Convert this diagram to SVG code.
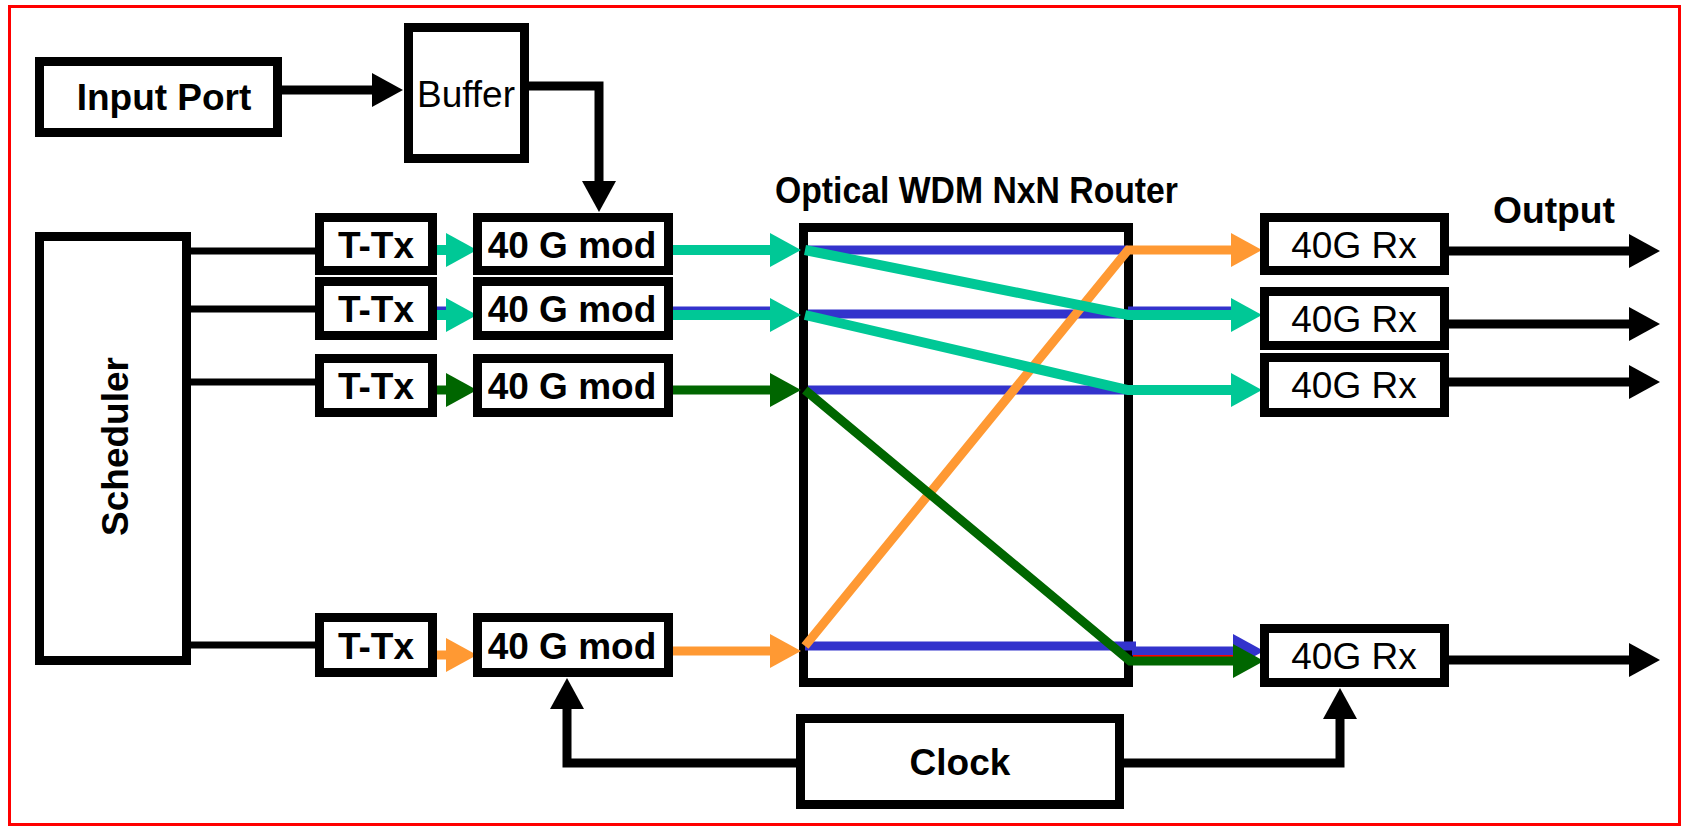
<svg xmlns="http://www.w3.org/2000/svg" width="1683" height="826" viewBox="0 0 1683 826">
  <style>
    .box { fill: #ffffff; stroke: #000000; stroke-width: 9; }
    .lbl { font-family: "Liberation Sans", Arial, sans-serif; font-weight: bold; font-size: 37px; fill: #000000; text-anchor: middle; }
    .reg { font-weight: normal; }
    .blk { fill: none; stroke: #000000; stroke-width: 9; }
    .ctl { fill: none; stroke: #000000; stroke-width: 7; }
    .teal { fill: none; stroke: #00C896; stroke-width: 10; }
    .grn { fill: none; stroke: #006600; stroke-width: 9; }
    .org { fill: none; stroke: #FF9933; stroke-width: 9; }
    .blu { fill: none; stroke: #3333CC; stroke-width: 9; }
  </style>
  <defs>
    <marker id="ah-black" markerUnits="userSpaceOnUse" markerWidth="32" markerHeight="34" refX="1" refY="17" orient="auto">
      <path d="M0,0 L31,17 L0,34 z" fill="#000000"/>
    </marker>
    <marker id="ah-teal" markerUnits="userSpaceOnUse" markerWidth="32" markerHeight="34" refX="1" refY="17" orient="auto">
      <path d="M0,0 L31,17 L0,34 z" fill="#00C896"/>
    </marker>
    <marker id="ah-green" markerUnits="userSpaceOnUse" markerWidth="32" markerHeight="34" refX="1" refY="17" orient="auto">
      <path d="M0,0 L31,17 L0,34 z" fill="#006600"/>
    </marker>
    <marker id="ah-orange" markerUnits="userSpaceOnUse" markerWidth="32" markerHeight="34" refX="1" refY="17" orient="auto">
      <path d="M0,0 L31,17 L0,34 z" fill="#FF9933"/>
    </marker>
    <marker id="ah-blue" markerUnits="userSpaceOnUse" markerWidth="32" markerHeight="34" refX="1" refY="17" orient="auto">
      <path d="M0,0 L31,17 L0,34 z" fill="#3333CC"/>
    </marker>
  </defs>

  <rect x="0" y="0" width="1683" height="826" fill="#ffffff"/>
  <!-- outer frame -->
  <rect x="9.5" y="6.5" width="1670" height="818" fill="none" stroke="#FF0000" stroke-width="3"/>

  <!-- router body drawn first so the wavelength paths sit on top of it -->
  <g id="router">
    <rect class="box" x="803.5" y="227.5" width="325" height="455"/>
    <text class="lbl" x="976.5" y="203" font-size="29" textLength="403" lengthAdjust="spacingAndGlyphs">Optical WDM NxN Router</text>
  </g>

  <g id="connectors">
    <!-- control lines -->
    <line class="blk" x1="282" y1="90" x2="373" y2="90" marker-end="url(#ah-black)"/>
    <path class="blk" d="M529,86 H599 V182" marker-end="url(#ah-black)"/>
    <line class="ctl" x1="191" y1="251" x2="315" y2="251"/>
    <line class="ctl" x1="191" y1="309" x2="315" y2="309"/>
    <line class="ctl" x1="191" y1="382" x2="315" y2="382"/>
    <line class="ctl" x1="191" y1="645" x2="315" y2="645"/>
    <path class="blk" d="M796,763 H567 V708" stroke-width="10" marker-end="url(#ah-black)"/>
    <path class="blk" d="M1124,763 H1340 V718" stroke-width="10" marker-end="url(#ah-black)"/>

    <!-- outputs -->
    <line class="blk" x1="1449" y1="251" x2="1630" y2="251" stroke-width="8" marker-end="url(#ah-black)"/>
    <line class="blk" x1="1449" y1="324" x2="1630" y2="324" stroke-width="8" marker-end="url(#ah-black)"/>
    <line class="blk" x1="1449" y1="382" x2="1630" y2="382" stroke-width="8" marker-end="url(#ah-black)"/>
    <line class="blk" x1="1449" y1="660" x2="1630" y2="660" stroke-width="8" marker-end="url(#ah-black)"/>

    <!-- second channel also carries a thin blue trace -->
    <line class="blu" stroke-width="3" x1="437" y1="311" x2="448" y2="311"/>
    <line class="blu" stroke-width="3" x1="673" y1="311" x2="772" y2="311"/>
    <line class="blu" stroke-width="3" x1="1128" y1="311" x2="1234" y2="311"/>

    <!-- transmitter to modulator -->
    <line class="teal" x1="437" y1="250" x2="447" y2="250" marker-end="url(#ah-teal)"/>
    <line class="teal" x1="437" y1="315" x2="447" y2="315" marker-end="url(#ah-teal)"/>
    <line class="grn" stroke-width="10" x1="437" y1="390" x2="447" y2="390" marker-end="url(#ah-green)"/>
    <line class="org" stroke-width="10" x1="437" y1="655" x2="447" y2="655" marker-end="url(#ah-orange)"/>

    <!-- modulator to router -->
    <line class="teal" x1="673" y1="250" x2="771" y2="250" marker-end="url(#ah-teal)"/>
    <line class="teal" x1="673" y1="315" x2="771" y2="315" marker-end="url(#ah-teal)"/>
    <line class="grn" stroke-width="10" x1="673" y1="390" x2="771" y2="390" marker-end="url(#ah-green)"/>
    <line class="org" stroke-width="9" x1="673" y1="651" x2="771" y2="651" marker-end="url(#ah-orange)"/>

    <!-- router internal straight-through lanes -->
    <line class="blu" x1="808" y1="250" x2="1128" y2="250"/>
    <line class="blu" x1="808" y1="314" x2="1128" y2="314"/>
    <line class="blu" x1="808" y1="390" x2="1128" y2="390"/>
    <line class="blu" stroke-width="7" x1="805" y1="646" x2="1136" y2="646"/>

    <!-- bottom output bundle -->
    <line class="blu" stroke-width="8" x1="1132" y1="651" x2="1234" y2="651" marker-end="url(#ah-blue)"/>
    <line stroke="#FF0000" stroke-width="2" x1="1133" y1="656" x2="1234" y2="656"/>

    <!-- routed wavelengths -->
    <path class="org" d="M805,646 L1128,250 H1232" marker-end="url(#ah-orange)"/>
    <path class="grn" d="M805,390 L1130,661 H1234" marker-end="url(#ah-green)"/>
    <path class="teal" stroke-width="9" d="M805,250 L1128,315 H1232" marker-end="url(#ah-teal)"/>
    <path class="teal" stroke-width="9" d="M805,315 L1128,390 H1232" marker-end="url(#ah-teal)"/>
  </g>

  <g id="input-port">
    <rect class="box" x="39.5" y="61.5" width="238" height="71"/>
    <text class="lbl" x="164" y="110">Input Port</text>
  </g>
  <g id="buffer">
    <rect class="box" x="408.5" y="27.5" width="116" height="131"/>
    <text class="lbl reg" x="466" y="107">Buffer</text>
  </g>
  <g id="scheduler">
    <rect class="box" x="39.5" y="236.5" width="147" height="424"/>
    <text class="lbl" font-size="38" transform="translate(128,446.5) rotate(-90)">Scheduler</text>
  </g>

  <g id="ttx-1"><rect class="box" x="319.5" y="217.5" width="113" height="53"/><text class="lbl" x="376" y="257.5">T-Tx</text></g>
  <g id="ttx-2"><rect class="box" x="319.5" y="281.5" width="113" height="54"/><text class="lbl" x="376" y="322">T-Tx</text></g>
  <g id="ttx-3"><rect class="box" x="319.5" y="358.5" width="113" height="54"/><text class="lbl" x="376" y="399">T-Tx</text></g>
  <g id="ttx-4"><rect class="box" x="319.5" y="617.5" width="113" height="55"/><text class="lbl" x="376" y="658.5">T-Tx</text></g>

  <g id="mod-1"><rect class="box" x="477.5" y="217.5" width="191" height="53"/><text class="lbl" x="572" y="257.5">40 G mod</text></g>
  <g id="mod-2"><rect class="box" x="477.5" y="281.5" width="191" height="54"/><text class="lbl" x="572" y="322">40 G mod</text></g>
  <g id="mod-3"><rect class="box" x="477.5" y="358.5" width="191" height="54"/><text class="lbl" x="572" y="399">40 G mod</text></g>
  <g id="mod-4"><rect class="box" x="477.5" y="617.5" width="191" height="55"/><text class="lbl" x="572" y="658.5">40 G mod</text></g>

  <g id="rx-1"><rect class="box" x="1264.5" y="217.5" width="180" height="53"/><text class="lbl reg" x="1354" y="257.5">40G Rx</text></g>
  <g id="rx-2"><rect class="box" x="1264.5" y="291.5" width="180" height="54"/><text class="lbl reg" x="1354" y="331.5">40G Rx</text></g>
  <g id="rx-3"><rect class="box" x="1264.5" y="357.5" width="180" height="55"/><text class="lbl reg" x="1354" y="398">40G Rx</text></g>
  <g id="rx-4"><rect class="box" x="1264.5" y="628.5" width="180" height="54"/><text class="lbl reg" x="1354" y="668.5">40G Rx</text></g>

  <g id="output-label">
    <text class="lbl" x="1554" y="223" font-size="33" textLength="122" lengthAdjust="spacingAndGlyphs">Output</text>
  </g>

  <g id="clock">
    <rect class="box" x="800.5" y="718.5" width="319" height="86"/>
    <text class="lbl" x="960" y="775">Clock</text>
  </g>
</svg>
